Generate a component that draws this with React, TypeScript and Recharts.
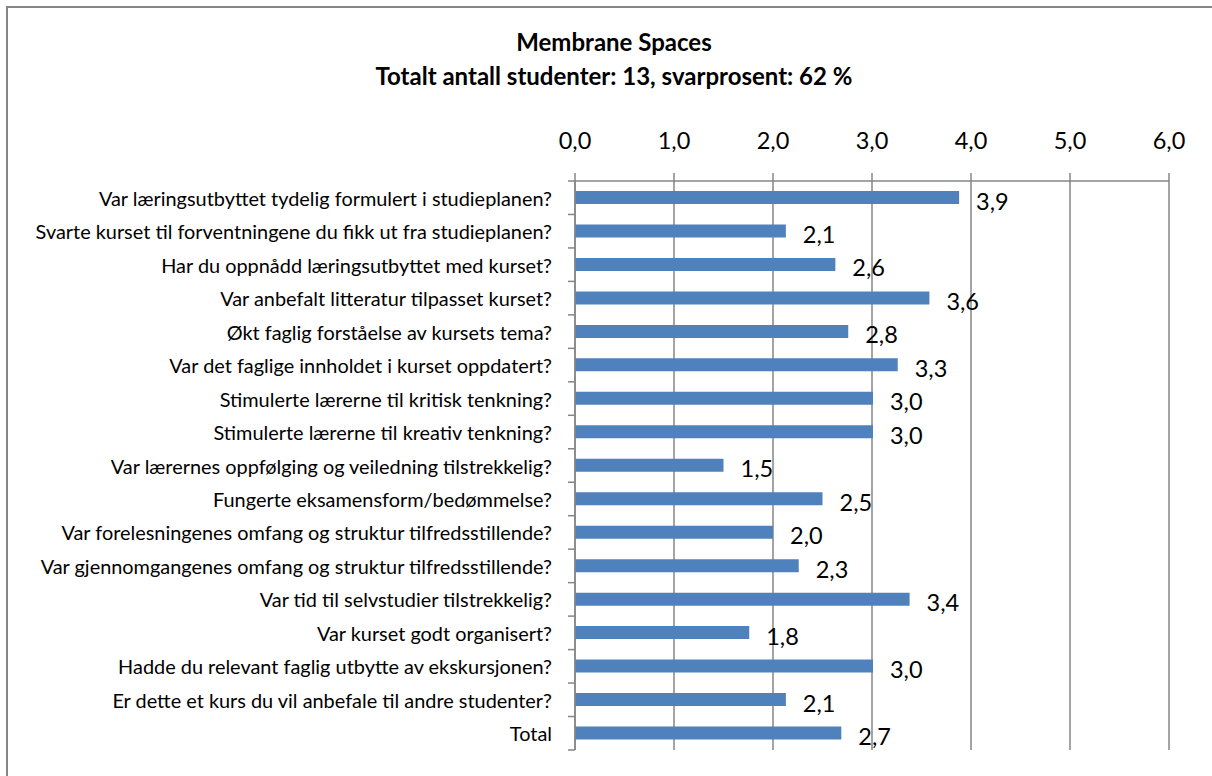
import { Bar, BarChart, CartesianGrid, LabelList, XAxis, YAxis } from "recharts";

const questions = [
  "Var læringsutbyttet tydelig formulert i studieplanen?",
  "Svarte kurset til forventningene du fikk ut fra studieplanen?",
  "Har du oppnådd læringsutbyttet med kurset?",
  "Var anbefalt litteratur tilpasset kurset?",
  "Økt faglig forståelse av kursets tema?",
  "Var det faglige innholdet i kurset oppdatert?",
  "Stimulerte lærerne til kritisk tenkning?",
  "Stimulerte lærerne til kreativ tenkning?",
  "Var lærernes oppfølging og veiledning tilstrekkelig?",
  "Fungerte eksamensform/bedømmelse?",
  "Var forelesningenes omfang og struktur tilfredsstillende?",
  "Var gjennomgangenes omfang og struktur tilfredsstillende?",
  "Var tid til selvstudier tilstrekkelig?",
  "Var kurset godt organisert?",
  "Hadde du relevant faglig utbytte av ekskursjonen?",
  "Er dette et kurs du vil anbefale til andre studenter?",
  "Total"
];

const scores = [3.88, 2.13, 2.63, 3.58, 2.76, 3.26, 3.01, 3.01, 1.5, 2.5, 2.0, 2.26, 3.38, 1.76, 3.01, 2.13, 2.69];

const xTicks = [0, 1, 2, 3, 4, 5, 6];

const data = questions.map((name, i) => ({ name, score: scores[i] }));

const W = 1212;
const H = 776;
const M = { top: 101, right: 43, bottom: 26, left: 0 };
const band = (H - M.top - 80 - M.bottom) / questions.length;
const font = "Lato, 'Open Sans', sans-serif";
const grey = "#868686";

const fmt = (v: number) => v.toFixed(1).replace(".", ",");

function CategoryTick(props: any) {
  const { x, y, payload, index } = props;
  const ax = x + 16 + 7;
  return (
    <g>
      <line x1={ax - 7} x2={ax} y1={y - band / 2} y2={y - band / 2} stroke={grey} strokeWidth={1.5} />
      {index === questions.length - 1 && (
        <line x1={ax - 7} x2={ax} y1={y + band / 2} y2={y + band / 2} stroke={grey} strokeWidth={1.5} />
      )}
      <text x={x} y={y} textAnchor="end" dominantBaseline="central" fontSize={19.9} fontFamily={font} fill="#000">
        {payload.value}
      </text>
    </g>
  );
}

function ValueLabel(props: any) {
  const { x, y, width, height, value } = props;
  return (
    <text x={x + width + 17} y={y + height / 2 + 3} dominantBaseline="central" fontSize={23.5} fontFamily={font} fill="#000">
      {fmt(value)}
    </text>
  );
}

export default function App() {
  return (
    <div style={{ position: "absolute", left: 0, top: 0, width: W, height: H, background: "#fff", overflow: "hidden" }}>
      <div
        style={{
          position: "absolute",
          left: 6,
          top: 6,
          width: W,
          height: H,
          borderLeft: `2px solid ${grey}`,
          borderTop: `2px solid ${grey}`
        }}
      />
      <div
        style={{
          position: "absolute",
          left: 8,
          width: W,
          top: 25,
          textAlign: "center",
          fontFamily: font,
          fontWeight: 700,
          fontSize: 24,
          lineHeight: "34px"
        }}
      >
        <div>Membrane Spaces</div>
        <div>Totalt antall studenter: 13, svarprosent: 62 %</div>
      </div>
      <div style={{ position: "absolute", left: 0, top: 0 }}>
        <BarChart width={W} height={H} data={data} layout="vertical" margin={M} barSize={13}>
          <CartesianGrid horizontal={false} stroke={grey} strokeWidth={1.5} />
          <XAxis
            type="number"
            orientation="top"
            domain={[0, 6]}
            ticks={xTicks}
            tickFormatter={fmt}
            height={80}
            tickSize={8}
            tickMargin={24}
            axisLine={{ stroke: grey, strokeWidth: 1.5 }}
            tickLine={{ stroke: grey, strokeWidth: 1.5 }}
            tick={{ fontSize: 23.5, fontFamily: font, fill: "#000" }}
          />
          <YAxis
            type="category"
            dataKey="name"
            width={575}
            tickSize={7}
            tickMargin={16}
            tickLine={false}
            axisLine={{ stroke: grey, strokeWidth: 1.5 }}
            tick={<CategoryTick />}
            interval={0}
          />
          <Bar dataKey="score" fill="#4f81bd" isAnimationActive={false}>
            <LabelList dataKey="score" content={<ValueLabel />} />
          </Bar>
        </BarChart>
      </div>
    </div>
  );
}
